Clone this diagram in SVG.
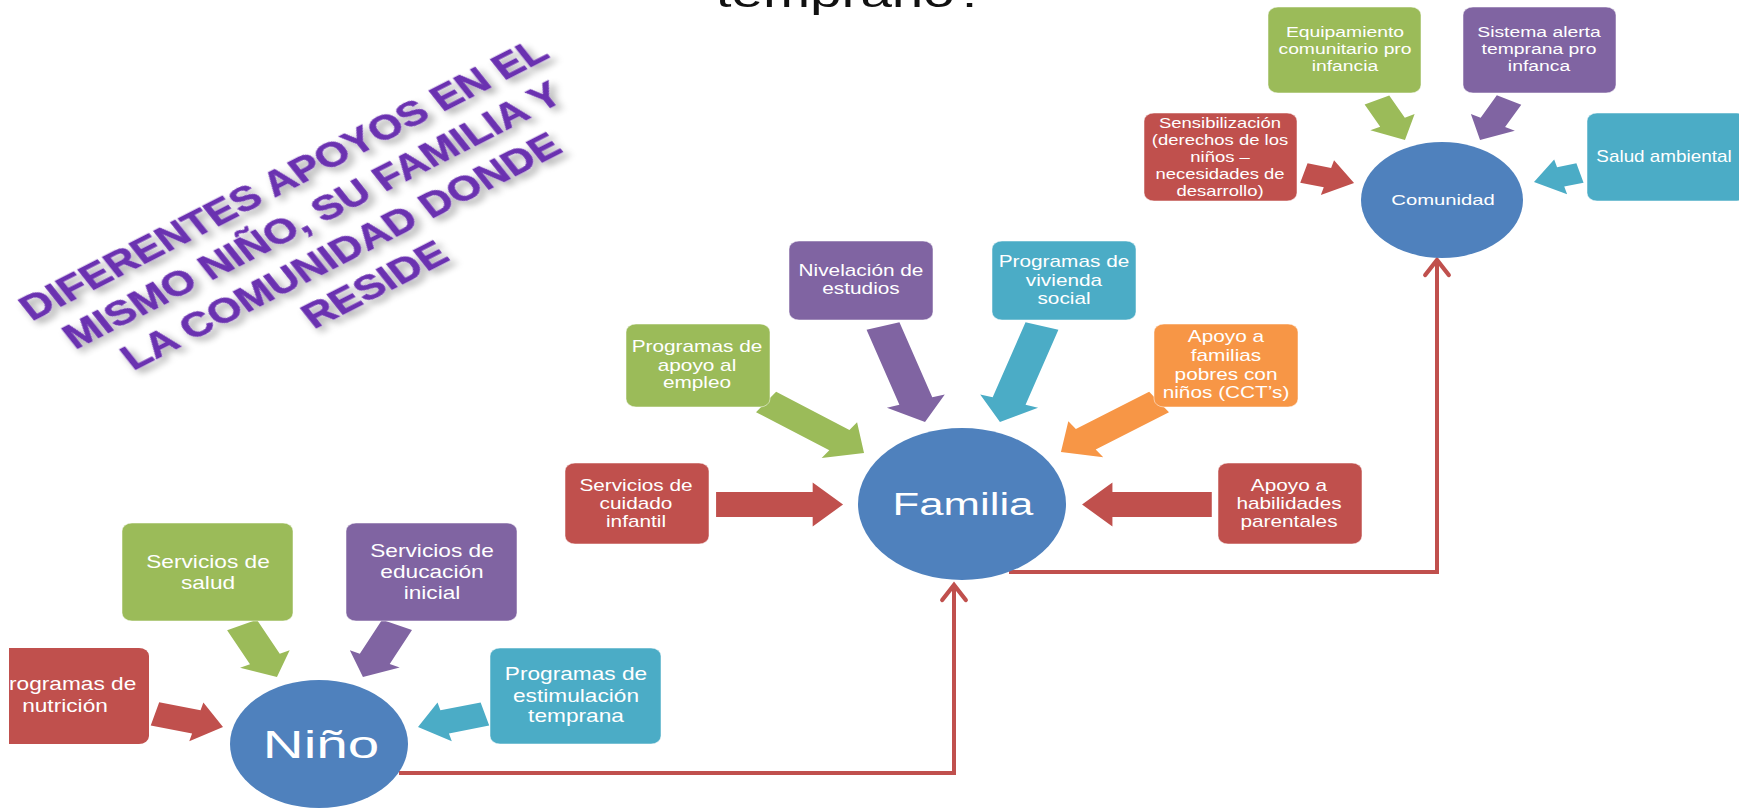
<svg xmlns="http://www.w3.org/2000/svg" width="1739" height="810" viewBox="0 0 1739 810">
<defs>
<style>
.g{fill:#9BBB59}.p{fill:#8064A2}.r{fill:#C0504D}.t{fill:#4BACC6}.o{fill:#F79646}.c{fill:#4F81BD}
.bx{stroke:#ffffff;stroke-opacity:0.5;stroke-width:1}
text{font-family:"Liberation Sans",Arial,sans-serif;fill:#ffffff}
.f14{font-size:14px}.f15{font-size:15px}.f16{font-size:16px}.f18{font-size:18px}
.head{font-size:41px;fill:#111111}
.ttl{font-size:35px;font-weight:bold;fill:#6A30B0;stroke:#6A30B0;stroke-width:0.6}
.conn{fill:none;stroke:#C0504D;stroke-width:4}
</style>
<marker id="chev" markerUnits="userSpaceOnUse" markerWidth="30" markerHeight="30" viewBox="-18 -14 22 28" refX="0" refY="0" orient="auto">
<path d="M-14,-11 L0,0 L-14,11" fill="none" stroke="#C0504D" stroke-width="4" stroke-linecap="round"/>
</marker>
<filter id="sh" x="-20%" y="-40%" width="140%" height="180%">
<feGaussianBlur in="SourceAlpha" stdDeviation="3.5"/>
<feOffset dx="2" dy="6" result="b"/>
<feComponentTransfer><feFuncA type="linear" slope="0.35"/></feComponentTransfer>
<feMerge><feMergeNode/><feMergeNode in="SourceGraphic"/></feMerge>
</filter>
</defs>
<rect width="1739" height="810" fill="#ffffff"/>

<g id="heading">
<text class="head" transform="translate(851,7) scale(1.38,1)" text-anchor="middle">temprano?</text>
</g>

<g id="title" transform="translate(339.6,240.5) scale(1.25,1) rotate(-32.5)" filter="url(#sh)">
<text class="ttl" text-anchor="middle">
<tspan x="0" y="-63.75">DIFERENTES APOYOS EN EL</tspan>
<tspan x="0" y="-21.25">MISMO NIÑO, SU FAMILIA Y</tspan>
<tspan x="0" y="21.25">LA COMUNIDAD DONDE</tspan>
<tspan x="0" y="63.75">RESIDE</tspan>
</text>
</g>

<g id="connectors">
<path class="conn" d="M399,773 H954 V585" marker-end="url(#chev)"/>
<path class="conn" d="M1009,572 H1437 V260" marker-end="url(#chev)"/>
</g>

<g id="arrows">
<path class="g" transform="scale(1.38,1) translate(626.1,453) rotate(35.7)" d="M0,0 L-22,-22 L-22,-12.5 L-87.4,-12.5 L-87.4,12.5 L-22,12.5 L-22,22 Z"/>
<path class="p" transform="scale(1.38,1) translate(670.3,422) rotate(72.4)" d="M0,0 L-22,-22 L-22,-12.5 L-100.7,-12.5 L-100.7,12.5 L-22,12.5 L-22,22 Z"/>
<path class="t" transform="scale(1.38,1) translate(724.6,422) rotate(107.6)" d="M0,0 L-22,-22 L-22,-12.5 L-100.7,-12.5 L-100.7,12.5 L-22,12.5 L-22,22 Z"/>
<path class="o" transform="scale(1.38,1) translate(768.8,452) rotate(144.9)" d="M0,0 L-22,-22 L-22,-12.5 L-86.9,-12.5 L-86.9,12.5 L-22,12.5 L-22,22 Z"/>
<path class="r" transform="scale(1.38,1) translate(610.9,504.5)" d="M0,0 L-22,-22 L-22,-12.5 L-92,-12.5 L-92,12.5 L-22,12.5 L-22,22 Z"/>
<path class="r" transform="scale(1.38,1) translate(784.1,504.5) rotate(180)" d="M0,0 L-22,-22 L-22,-12.5 L-94,-12.5 L-94,12.5 L-22,12.5 L-22,22 Z"/>
<path class="g" transform="scale(1.38,1) translate(1018.1,140) rotate(63.1)" d="M0,0 L-20,-18 L-20,-10 L-44.9,-10 L-44.9,10 L-20,10 L-20,18 Z"/>
<path class="p" transform="scale(1.38,1) translate(1072.5,140) rotate(117.7)" d="M0,0 L-20,-18 L-20,-10 L-45.2,-10 L-45.2,10 L-20,10 L-20,18 Z"/>
<path class="r" transform="scale(1.38,1) translate(981.2,183) rotate(15.4)" d="M0,0 L-20,-18 L-20,-10 L-37.7,-10 L-37.7,10 L-20,10 L-20,18 Z"/>
<path class="t" transform="scale(1.38,1) translate(1111.6,182) rotate(164.9)" d="M0,0 L-20,-18 L-20,-10 L-34.5,-10 L-34.5,10 L-20,10 L-20,18 Z"/>
<path class="g" transform="scale(1.38,1) translate(200.7,677) rotate(64)" d="M0,0 L-20,-20 L-20,-12 L-57.8,-12 L-57.8,12 L-20,12 L-20,20 Z"/>
<path class="p" transform="scale(1.38,1) translate(263,677) rotate(115.4)" d="M0,0 L-20,-20 L-20,-12 L-57.6,-12 L-57.6,12 L-20,12 L-20,20 Z"/>
<path class="r" transform="scale(1.38,1) translate(161.6,727) rotate(14.8)" d="M0,0 L-20,-20 L-20,-12 L-51,-12 L-51,12 L-20,12 L-20,20 Z"/>
<path class="t" transform="scale(1.38,1) translate(302.9,727) rotate(165)" d="M0,0 L-20,-20 L-20,-12 L-50.2,-12 L-50.2,12 L-20,12 L-20,20 Z"/>
</g>

<!-- Comunidad cluster -->
<g id="comunidad">
<ellipse class="c" cx="1442" cy="200" rx="81" ry="58"/>
<text class="f15" transform="translate(1443,0) scale(1.35,1)" text-anchor="middle" y="205">Comunidad</text>
</g>
<g id="equipamiento">
<rect class="g bx" x="1268" y="7" width="153" height="86" rx="10" ry="8"/>
<text class="f14" transform="translate(1345,0) scale(1.38,1)" text-anchor="middle"><tspan x="0" y="36.6">Equipamiento</tspan><tspan x="0" y="53.6">comunitario pro</tspan><tspan x="0" y="70.6">infancia</tspan></text>
</g>
<g id="sistema-alerta">
<rect class="p bx" x="1463" y="7" width="153" height="86" rx="10" ry="8"/>
<text class="f14" transform="translate(1539,0) scale(1.38,1)" text-anchor="middle"><tspan x="0" y="36.6">Sistema alerta</tspan><tspan x="0" y="53.6">temprana pro</tspan><tspan x="0" y="70.6">infanca</tspan></text>
</g>
<g id="sensibilizacion">
<rect class="r bx" x="1144" y="113" width="153" height="88" rx="10" ry="8"/>
<text class="f15" transform="translate(1220,0) scale(1.23,1)" text-anchor="middle"><tspan x="0" y="128">Sensibilización</tspan><tspan x="0" y="145">(derechos de los</tspan><tspan x="0" y="162">niños –</tspan><tspan x="0" y="179">necesidades de</tspan><tspan x="0" y="196">desarrollo)</tspan></text>
</g>
<g id="salud-ambiental">
<rect class="t bx" x="1587" y="113" width="160" height="88" rx="10" ry="8"/>
<text class="f16" transform="translate(1664,0) scale(1.18,1)" text-anchor="middle" y="162">Salud ambiental</text>
</g>

<!-- Familia cluster -->
<g id="familia">
<ellipse class="c" cx="962" cy="504" rx="104" ry="76"/>
<text transform="translate(963,0) scale(1.41,1)" text-anchor="middle" y="515" style="font-size:31px">Familia</text>
</g>
<g id="nivelacion">
<rect class="p bx" x="789" y="241" width="144" height="79" rx="10" ry="8"/>
<text class="f16" transform="translate(861,0) scale(1.3,1)" text-anchor="middle"><tspan x="0" y="276">Nivelación de</tspan><tspan x="0" y="294">estudios</tspan></text>
</g>
<g id="vivienda">
<rect class="t bx" x="992" y="241" width="144" height="79" rx="10" ry="8"/>
<text class="f16" transform="translate(1064,0) scale(1.3,1)" text-anchor="middle"><tspan x="0" y="267">Programas de</tspan><tspan x="0" y="286">vivienda</tspan><tspan x="0" y="304">social</tspan></text>
</g>
<g id="empleo">
<rect class="g bx" x="626" y="324" width="144" height="83" rx="10" ry="8"/>
<text class="f16" transform="translate(697,0) scale(1.3,1)" text-anchor="middle"><tspan x="0" y="352">Programas de</tspan><tspan x="0" y="371">apoyo al</tspan><tspan x="0" y="388">empleo</tspan></text>
</g>
<g id="cct">
<rect class="o bx" x="1154" y="324" width="144" height="83" rx="10" ry="8"/>
<text class="f16" transform="translate(1226,0) scale(1.3,1)" text-anchor="middle"><tspan x="0" y="342">Apoyo a</tspan><tspan x="0" y="361">familias</tspan><tspan x="0" y="380">pobres con</tspan><tspan x="0" y="398">niños (CCT’s)</tspan></text>
</g>
<g id="cuidado">
<rect class="r bx" x="565" y="463" width="144" height="81" rx="10" ry="8"/>
<text class="f16" transform="translate(636,0) scale(1.3,1)" text-anchor="middle"><tspan x="0" y="491">Servicios de</tspan><tspan x="0" y="509">cuidado</tspan><tspan x="0" y="527">infantil</tspan></text>
</g>
<g id="habilidades">
<rect class="r bx" x="1218" y="463" width="144" height="81" rx="10" ry="8"/>
<text class="f16" transform="translate(1289,0) scale(1.3,1)" text-anchor="middle"><tspan x="0" y="491">Apoyo a</tspan><tspan x="0" y="509">habilidades</tspan><tspan x="0" y="527">parentales</tspan></text>
</g>

<!-- Niño cluster -->
<g id="nino">
<ellipse class="c" cx="319" cy="744" rx="89" ry="64"/>
<text transform="translate(321,0) scale(1.45,1)" text-anchor="middle" y="758" style="font-size:39px">Niño</text>
</g>
<g id="salud">
<rect class="g bx" x="122" y="523" width="171" height="98" rx="10" ry="8"/>
<text class="f18" transform="translate(208,0) scale(1.26,1)" text-anchor="middle"><tspan x="0" y="568">Servicios de</tspan><tspan x="0" y="589">salud</tspan></text>
</g>
<g id="educacion">
<rect class="p bx" x="346" y="523" width="171" height="98" rx="10" ry="8"/>
<text class="f18" transform="translate(432,0) scale(1.26,1)" text-anchor="middle"><tspan x="0" y="557">Servicios de</tspan><tspan x="0" y="578">educación</tspan><tspan x="0" y="599">inicial</tspan></text>
</g>
<g id="nutricion">
<path class="r" d="M9,648 H139 A10,8 0 0 1 149,656 V736 A10,8 0 0 1 139,744 H9 Z"/>
<text class="f18" transform="translate(9,0) scale(1.26,1)" y="690">rogramas de</text>
<text class="f18" transform="translate(65,0) scale(1.26,1)" text-anchor="middle" y="712">nutrición</text>
</g>
<g id="estimulacion">
<rect class="t bx" x="490" y="648" width="171" height="96" rx="10" ry="8"/>
<text class="f18" transform="translate(576,0) scale(1.26,1)" text-anchor="middle"><tspan x="0" y="680">Programas de</tspan><tspan x="0" y="702">estimulación</tspan><tspan x="0" y="722">temprana</tspan></text>
</g>
</svg>
